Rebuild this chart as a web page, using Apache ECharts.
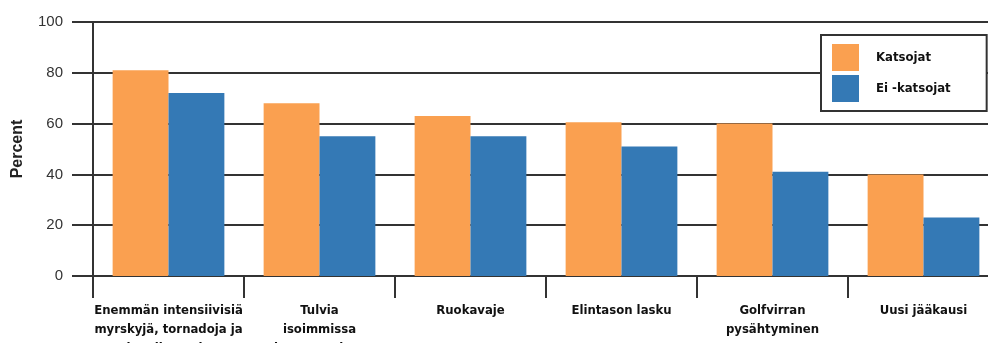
<!DOCTYPE html>
<html>
<head>
<meta charset="utf-8">
<script src="https://cdn.jsdelivr.net/npm/echarts@6/dist/echarts.min.js"></script>
<style>html,body{margin:0;padding:0;background:#fff}#c{width:988px;height:343px}</style>
</head>
<body>
<div id="c"></div>
<script>
const categories = [
  "Enemmän intensiivisiä\nmyrskyjä, tornadoja ja\nhurrikaaneja",
  "Tulvia\nisoimmissa\nkaupungeissa",
  "Ruokavaje",
  "Elintason lasku",
  "Golfvirran\npysähtyminen",
  "Uusi jääkausi"
];
const katsojat = [81, 68, 63, 60.5, 60, 40];
const eiKatsojat = [72, 55, 55, 51, 41, 23];
const yTicks = [0, 20, 40, 60, 80, 100];

const condensed = '"DejaVu Sans Condensed", "DejaVu Sans", sans-serif';
const chart = echarts.init(document.getElementById('c'));
chart.setOption({
  animation: false,
  grid: { left: 93, top: 22, width: 906, height: 254, containLabel: false, outerBoundsMode: 'none' },
  legend: {
    orient: 'vertical',
    left: 821, top: 35,
    itemWidth: 27, itemHeight: 27, itemGap: 4,
    padding: [9, 36, 9, 11],
    backgroundColor: '#fff',
    borderColor: '#333', borderWidth: 2,
    icon: 'rect',
    textStyle: {
      fontFamily: condensed, fontWeight: 'bold', fontSize: 13,
      color: '#111', padding: [0, 0, 0, 12]
    },
    data: ['Katsojat', 'Ei -katsojat']
  },
  xAxis: {
    type: 'category',
    data: categories,
    boundaryGap: true,
    axisLine: { lineStyle: { color: '#333', width: 2 } },
    axisTick: { show: true, interval: 0, length: 22, lineStyle: { color: '#333', width: 2 } },
    axisLabel: {
      interval: 0, margin: 25,
      fontFamily: condensed, fontWeight: 'bold', fontSize: 13,
      lineHeight: 19, color: '#111', align: 'center'
    }
  },
  yAxis: {
    type: 'value', min: yTicks[0], max: yTicks[yTicks.length - 1], interval: 20,
    name: 'Percent', nameLocation: 'middle', nameGap: 67, nameRotate: 90,
    nameTextStyle: { fontFamily: 'Liberation Sans', fontWeight: 'bold', fontSize: 16, color: '#222' },
    axisLine: { show: true, lineStyle: { color: '#333', width: 2 } },
    axisTick: { show: true, length: 21, lineStyle: { color: '#333', width: 2 } },
    axisLabel: { margin: 30, fontFamily: 'Liberation Sans', fontSize: 15, color: '#333' },
    splitLine: { show: true, lineStyle: { color: '#333', width: 2 } }
  },
  series: [
    { name: 'Katsojat', type: 'bar', data: katsojat, barGap: '0%', barCategoryGap: '26%',
      itemStyle: { color: '#FAA050' } },
    { name: 'Ei -katsojat', type: 'bar', data: eiKatsojat,
      itemStyle: { color: '#3479B5' } }
  ]
});
</script>
</body>
</html>
